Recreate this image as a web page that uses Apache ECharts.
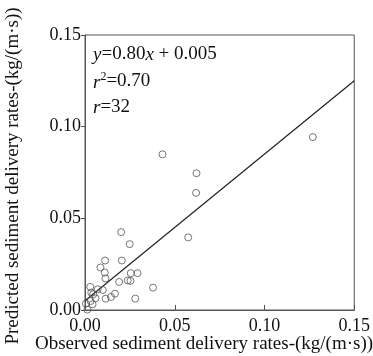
<!DOCTYPE html>
<html>
<head>
<meta charset="utf-8">
<script src="https://cdn.jsdelivr.net/npm/echarts@6/dist/echarts.min.js"></script>
<style>html,body{margin:0;padding:0;background:#fff}#c{width:373px;height:356px}</style>
</head>
<body>
<div id="c"></div>
<script>
// Observed (x) and predicted (y) sediment delivery rates, kg/(m·s)
const observed = [0.1269,0.0432,0.0621,0.0619,0.0575,0.0201,0.0249,0.0205,0.0112,0.0086,0.0110,0.0114,0.0255,0.0293,0.0190,0.0238,0.0253,0.0379,0.0280,0.0167,0.0145,0.0115,0.0099,0.0029,0.0059,0.0005,0.0013,0.0031,0.0042,0.0035,0.0046,0.0071];
const predicted = [0.0943,0.0849,0.0746,0.0639,0.0396,0.0425,0.0359,0.0270,0.0270,0.0232,0.0204,0.0172,0.0201,0.0201,0.0153,0.0161,0.0159,0.0122,0.0062,0.0089,0.0071,0.0062,0.0109,0.0126,0.0064,0.0035,0.0002,0.0049,0.0031,0.0095,0.0086,0.0113];
// Regression line y = 0.80x + 0.005
const slope = 0.80;
const intercept = 0.005;
const lineX = [0, 0.15];
const axisTicks = [0, 0.05, 0.10, 0.15];

const FONT = '"Liberation Serif", "Times New Roman", serif';
const points = observed.map((x, i) => [x, predicted[i]]);
const fitLine = lineX.map(x => [x, slope * x + intercept]);

const chart = echarts.init(document.getElementById('c'), null, {renderer: 'canvas'});
chart.setOption({
  animation: false,
  backgroundColor: '#fff',
  grid: {left: 85, right: 14, top: 35, bottom: 46, show: true, borderColor: '#555', borderWidth: 1, backgroundColor: 'transparent'},
  xAxis: {
    type: 'value', min: 0, max: 0.15, interval: 0.05,
    axisLine: {show: true, lineStyle: {color: '#555', width: 1}},
    axisTick: {show: true, inside: true, length: 5, lineStyle: {color: '#555'}},
    axisLabel: {fontFamily: FONT, fontSize: 18, color: '#111', margin: 7, formatter: v => v.toFixed(2)},
    splitLine: {show: false}
  },
  yAxis: {
    type: 'value', min: 0, max: 0.15, interval: 0.05,
    axisLine: {show: true, lineStyle: {color: '#555', width: 1}},
    axisTick: {show: true, inside: false, length: 4, lineStyle: {color: '#555'}},
    axisLabel: {fontFamily: FONT, fontSize: 18, color: '#111', margin: 4, formatter: v => v.toFixed(2)},
    splitLine: {show: false}
  },
  series: [
    {
      type: 'scatter', data: points, symbol: 'circle', symbolSize: 7,
      itemStyle: {color: 'rgba(255,255,255,0)', borderColor: '#555', borderWidth: 1},
      z: 3
    },
    {
      type: 'line', data: fitLine, showSymbol: false, symbol: 'none',
      lineStyle: {color: '#222', width: 1.2}, z: 2
    }
  ],
  graphic: [
    {type: 'text', left: 93, top: 45, style: {
      text: '{i|y}=0.80{i|x} + 0.005', fontFamily: FONT, fontSize: 19, fill: '#111',
      rich: {i: {fontStyle: 'italic', fontFamily: FONT, fontSize: 19}}
    }},
    {type: 'text', left: 93, top: 71, style: {
      text: '{i|r}{s|2}=0.70', fontFamily: FONT, fontSize: 19, fill: '#111',
      rich: {i: {fontStyle: 'italic', fontFamily: FONT, fontSize: 19, lineHeight: 21, verticalAlign: 'bottom'},
             s: {fontFamily: FONT, fontSize: 12, lineHeight: 21, verticalAlign: 'top'}}
    }},
    {type: 'text', left: 93, top: 98, style: {
      text: '{i|r}=32', fontFamily: FONT, fontSize: 19, fill: '#111',
      rich: {i: {fontStyle: 'italic', fontFamily: FONT, fontSize: 19}}
    }},
    {type: 'text', x: 204, y: 344, style: {
      text: 'Observed sediment delivery rates-(kg/(m·s))', fontFamily: FONT, fontSize: 19, fill: '#111',
      textAlign: 'center', textVerticalAlign: 'middle'
    }},
    {type: 'text', x: 13, y: 176, rotation: Math.PI / 2, style: {
      text: 'Predicted sediment delivery rates-(kg/(m·s))', fontFamily: FONT, fontSize: 19, fill: '#111',
      textAlign: 'center', textVerticalAlign: 'middle'
    }}
  ]
});
</script>
</body>
</html>
